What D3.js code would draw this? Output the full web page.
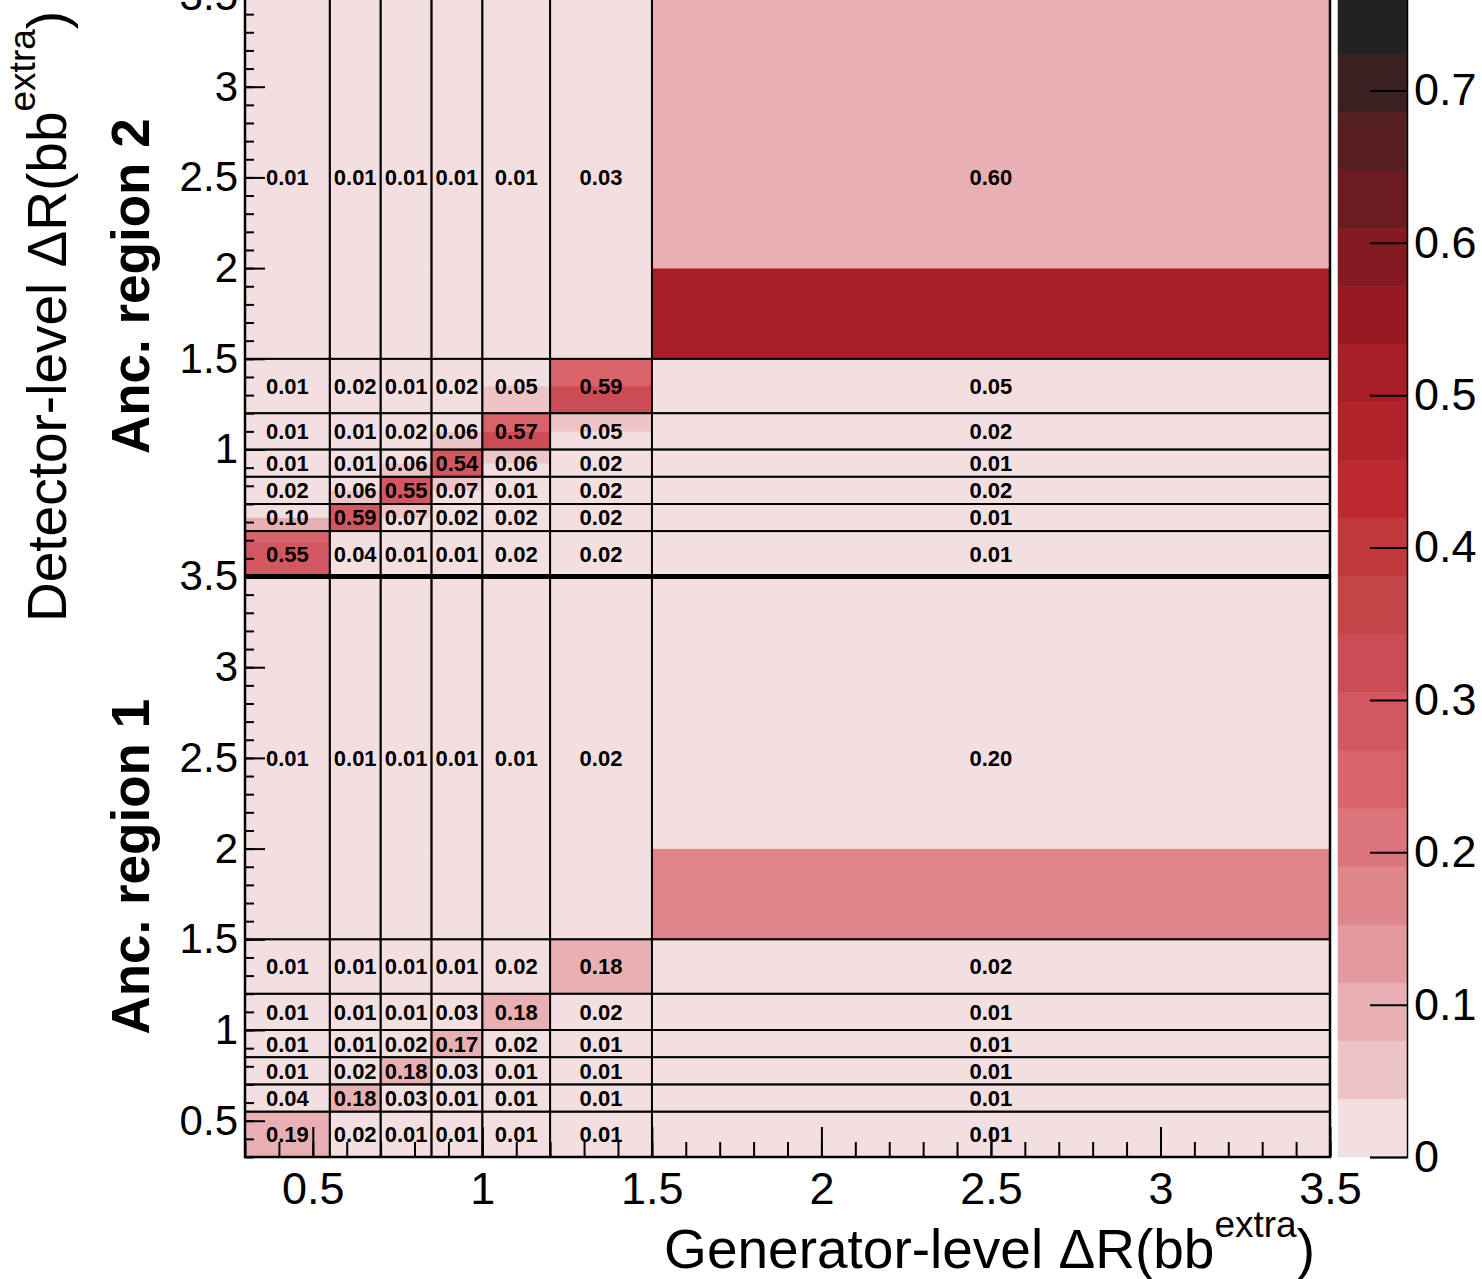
<!DOCTYPE html>
<html>
<head>
<meta charset="utf-8">
<script src="https://cdn.jsdelivr.net/npm/d3@7"></script>
<style>
	body { margin: 0; background: white; }
	text { font-family: "Liberation Sans", Arial, sans-serif; }
</style>
</head>
<body>
<script>
//bin edges (same binning for generator and detector level)
var xEdges = [0.3, 0.55, 0.7, 0.85, 1.0, 1.2, 1.5, 3.5];
var yEdges = [0.3, 0.55, 0.7, 0.85, 1.0, 1.2, 1.5, 3.5];

//printed values, rows from lowest detector bin up, columns = generator bins
var region2Values = [
	[0.55, 0.04, 0.01, 0.01, 0.02, 0.02, 0.01],
	[0.10, 0.59, 0.07, 0.02, 0.02, 0.02, 0.01],
	[0.02, 0.06, 0.55, 0.07, 0.01, 0.02, 0.02],
	[0.01, 0.01, 0.06, 0.54, 0.06, 0.02, 0.01],
	[0.01, 0.01, 0.02, 0.06, 0.57, 0.05, 0.02],
	[0.01, 0.02, 0.01, 0.02, 0.05, 0.59, 0.05],
	[0.01, 0.01, 0.01, 0.01, 0.01, 0.03, 0.60]
];
var region1Values = [
	[0.19, 0.02, 0.01, 0.01, 0.01, 0.01, 0.01],
	[0.04, 0.18, 0.03, 0.01, 0.01, 0.01, 0.01],
	[0.01, 0.02, 0.18, 0.03, 0.01, 0.01, 0.01],
	[0.01, 0.01, 0.02, 0.17, 0.02, 0.01, 0.01],
	[0.01, 0.01, 0.01, 0.03, 0.18, 0.02, 0.01],
	[0.01, 0.01, 0.01, 0.01, 0.02, 0.18, 0.02],
	[0.01, 0.01, 0.01, 0.01, 0.01, 0.02, 0.20]
];

//colour fill comes from a finer detector binning
var region2FillEdges = [0.3, 0.49, 0.55, 0.625, 0.7, 0.775, 0.85, 0.925, 1.0, 1.1, 1.2, 1.35, 1.5, 2.0, 3.5];
var region2Fill = [
	[0.29, 0.01, 0.01, 0.01, 0.01, 0.01, 0.01],
	[0.25, 0.01, 0.01, 0.01, 0.01, 0.01, 0.01],
	[0.09, 0.29, 0.01, 0.01, 0.01, 0.01, 0.01],
	[0.01, 0.29, 0.05, 0.01, 0.01, 0.01, 0.01],
	[0.01, 0.05, 0.29, 0.01, 0.01, 0.01, 0.01],
	[0.01, 0.01, 0.29, 0.05, 0.01, 0.01, 0.01],
	[0.01, 0.01, 0.05, 0.29, 0.01, 0.01, 0.01],
	[0.01, 0.01, 0.01, 0.29, 0.05, 0.01, 0.01],
	[0.01, 0.01, 0.01, 0.05, 0.32, 0.01, 0.01],
	[0.01, 0.01, 0.01, 0.01, 0.25, 0.05, 0.01],
	[0.01, 0.01, 0.01, 0.01, 0.05, 0.32, 0.01],
	[0.01, 0.01, 0.01, 0.01, 0.01, 0.25, 0.01],
	[0.01, 0.01, 0.01, 0.01, 0.01, 0.01, 0.51],
	[0.01, 0.01, 0.01, 0.01, 0.01, 0.01, 0.09]
];
var region1FillEdges = [0.3, 0.55, 0.7, 0.85, 1.0, 1.2, 1.5, 2.0, 3.5];
var region1Fill = [
	[0.09, 0.01, 0.01, 0.01, 0.01, 0.01, 0.01],
	[0.01, 0.09, 0.01, 0.01, 0.01, 0.01, 0.01],
	[0.01, 0.01, 0.09, 0.01, 0.01, 0.01, 0.01],
	[0.01, 0.01, 0.01, 0.09, 0.01, 0.01, 0.01],
	[0.01, 0.01, 0.01, 0.01, 0.09, 0.01, 0.01],
	[0.01, 0.01, 0.01, 0.01, 0.01, 0.09, 0.01],
	[0.01, 0.01, 0.01, 0.01, 0.01, 0.01, 0.17],
	[0.01, 0.01, 0.01, 0.01, 0.01, 0.01, 0.01]
];

//20 contour colours, low to high
var paletteColors = ["#f3dfe0", "#edc5c7", "#e8b0b3", "#e39a9e", "#df868b", "#dc757b", "#d8636b",
	"#d25760", "#cb4d53", "#c54448", "#c0383c", "#bb2830", "#b2222b", "#a81e26", "#991820",
	"#851a22", "#6b1b20", "#561e22", "#3b2022", "#222222"];
var zMax = 0.762;

var xTickValues = [0.5, 1, 1.5, 2, 2.5, 3, 3.5];
var region1TickValues = [0.5, 1, 1.5, 2, 2.5, 3, 3.5];
var region2TickValues = [1, 1.5, 2, 2.5, 3, 3.5];
var zTickValues = [0, 0.1, 0.2, 0.3, 0.4, 0.5, 0.6, 0.7];

//canvas
var width = 1482;
var height = 1279;
var frameLeft = 245, frameRight = 1330, frameBottom = 1157, frameMiddle = 576.5, frameTop = -4;

var svg = d3.select("body")
	.append("svg")
	.attr("width", width)
	.attr("height", height);

var x = d3.scaleLinear().domain([0.3, 3.5]).range([frameLeft, frameRight]);
var yLow = d3.scaleLinear().domain([0.3, 3.5]).range([frameBottom, frameMiddle]);
var yHigh = d3.scaleLinear().domain([0.3, 3.5]).range([frameMiddle, frameTop]);

var color = d3.scaleQuantize()
	.domain([0, zMax])
	.range(paletteColors);

var fmt = d3.format(".2f");

//draw one region: fill, bin boxes, numbers
function drawRegion(y, fillEdges, fill, values)
{
	var g = svg.append("g");
	
	//fill
	fill.forEach(function (row, j)
	{
		g.selectAll(null)
			.data(row)
			.enter()
				.append("rect")
				.attr("x", function(d, i) { return x(xEdges[i]); })
				.attr("width", function(d, i) { return x(xEdges[i + 1]) - x(xEdges[i]); })
				.attr("y", y(fillEdges[j + 1]))
				.attr("height", y(fillEdges[j]) - y(fillEdges[j + 1]))
				.attr("fill", function(d) { return color(d); })
				.attr("stroke", function(d) { return color(d); })
				.attr("stroke-width", 0.5);
	});
	
	//bin boxes
	values.forEach(function (row, j)
	{
		g.selectAll(null)
			.data(row)
			.enter()
				.append("rect")
				.attr("x", function(d, i) { return x(xEdges[i]); })
				.attr("width", function(d, i) { return x(xEdges[i + 1]) - x(xEdges[i]); })
				.attr("y", y(yEdges[j + 1]))
				.attr("height", y(yEdges[j]) - y(yEdges[j + 1]))
				.attr("fill", "none")
				.attr("stroke", "black")
				.attr("stroke-width", 1.8);
	});
	
	//numbers
	values.forEach(function (row, j)
	{
		g.selectAll(null)
			.data(row)
			.enter()
				.append("text")
				.attr("x", function(d, i) { return (x(xEdges[i]) + x(xEdges[i + 1])) / 2; })
				.attr("y", (y(yEdges[j]) + y(yEdges[j + 1])) / 2)
				.attr("dy", "0.36em")
				.attr("text-anchor", "middle")
				.style("font-size", "22px")
				.style("font-weight", "bold")
				.text(function(d) { return fmt(d); });
	});
}

drawRegion(yLow, region1FillEdges, region1Fill, region1Values);
drawRegion(yHigh, region2FillEdges, region2Fill, region2Values);

//minor ticks every 0.1
var minorTicks = d3.range(3, 36).map(function(d) { return d / 10; });

//x axis
svg.append("g")
	.attr("transform", "translate(0," + frameBottom + ")")
	.call(d3.axisBottom(x).tickValues(minorTicks).tickSize(-15).tickFormat(""))
	.call(function(g) { g.select(".domain").remove(); });

svg.append("g")
	.attr("class", "xaxis")
	.attr("transform", "translate(0," + frameBottom + ")")
	.call(d3.axisBottom(x).tickValues(xTickValues).tickSize(-30).tickPadding(15).tickFormat(d3.format("")))
	.call(function(g) { g.select(".domain").remove(); });

//y axes, one per region
[yLow, yHigh].forEach(function (y, k)
{
	svg.append("g")
		.attr("transform", "translate(" + frameLeft + ",0)")
		.call(d3.axisLeft(y).tickValues(minorTicks).tickSize(-9).tickFormat(""))
		.call(function(g) { g.select(".domain").remove(); });
	
	svg.append("g")
		.attr("class", "yaxis")
		.attr("transform", "translate(" + frameLeft + ",0)")
		.call(d3.axisLeft(y).tickValues(k == 0 ? region1TickValues : region2TickValues)
			.tickSize(-20).tickPadding(7).tickFormat(d3.format("")))
		.call(function(g) { g.select(".domain").remove(); });
});

svg.selectAll(".tick line")
	.attr("stroke", "black")
	.attr("stroke-width", 2);

svg.selectAll(".xaxis text")
	.style("font-size", "45px")
	.attr("fill", "black");
svg.selectAll(".yaxis text")
	.style("font-size", "42px")
	.attr("fill", "black");

//frame and the line between the two regions
svg.append("rect")
	.attr("x", frameLeft)
	.attr("y", frameTop)
	.attr("width", frameRight - frameLeft)
	.attr("height", frameBottom - frameTop)
	.attr("fill", "none")
	.attr("stroke", "black")
	.attr("stroke-width", 2.5);

svg.append("line")
	.attr("x1", frameLeft)
	.attr("x2", frameRight)
	.attr("y1", frameMiddle)
	.attr("y2", frameMiddle)
	.attr("stroke", "black")
	.attr("stroke-width", 5);

//colour bar
var z = d3.scaleLinear().domain([0, zMax]).range([frameBottom, frameTop]);
var step = zMax / paletteColors.length;

svg.append("g")
	.selectAll("rect")
	.data(paletteColors)
	.enter()
		.append("rect")
		.attr("x", 1338)
		.attr("width", 69)
		.attr("y", function(d, i) { return z((i + 1) * step); })
		.attr("height", function(d, i) { return z(i * step) - z((i + 1) * step); })
		.attr("fill", function(d) { return d; })
		.attr("stroke", function(d) { return d; })
		.attr("stroke-width", 0.5);

svg.append("g")
	.attr("class", "zaxis")
	.attr("transform", "translate(1407,0)")
	.call(d3.axisRight(z).tickValues(zTickValues).tickSize(-37).tickPadding(7).tickFormat(d3.format("")))
	.call(function(g) { g.select(".domain").attr("stroke-width", 1.5); });

svg.selectAll(".zaxis .tick line")
	.attr("stroke", "black")
	.attr("stroke-width", 2);
svg.selectAll(".zaxis text")
	.style("font-size", "45px")
	.attr("fill", "black");

//axis titles
var xTitle = svg.append("text")
	.attr("x", 1315)
	.attr("y", 1268)
	.attr("text-anchor", "end")
	.style("font-size", "55px");
xTitle.append("tspan").text("Generator-level \u0394R(bb");
xTitle.append("tspan").attr("dy", -31).style("font-size", "37px").text("extra");
xTitle.append("tspan").attr("dy", 31).text(")");

var yTitle = svg.append("text")
	.attr("transform", "translate(66,622) rotate(-90)")
	.attr("text-anchor", "start")
	.style("font-size", "55px");
yTitle.append("tspan").text("Detector-level \u0394R(bb");
yTitle.append("tspan").attr("dy", -31).style("font-size", "37px").text("extra");
yTitle.append("tspan").attr("dy", 31).text(")");

//region labels
svg.append("text")
	.attr("transform", "translate(149," + ((frameMiddle + frameTop) / 2) + ") rotate(-90)")
	.attr("text-anchor", "middle")
	.style("font-size", "53px")
	.style("font-weight", "bold")
	.text("Anc. region 2");

svg.append("text")
	.attr("transform", "translate(149," + ((frameBottom + frameMiddle) / 2) + ") rotate(-90)")
	.attr("text-anchor", "middle")
	.style("font-size", "53px")
	.style("font-weight", "bold")
	.text("Anc. region 1");
</script>
</body>
</html>
